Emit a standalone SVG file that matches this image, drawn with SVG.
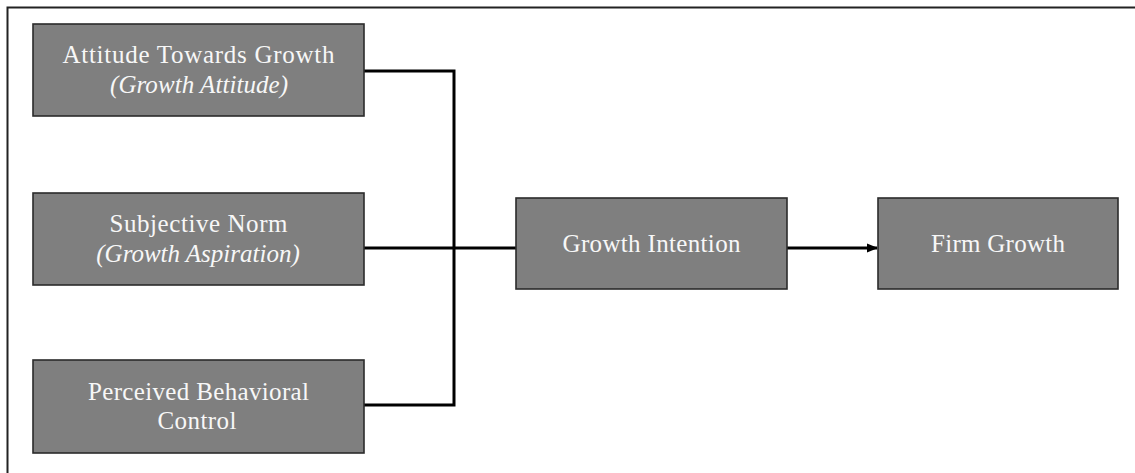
<svg xmlns="http://www.w3.org/2000/svg" width="1135" height="473" viewBox="0 0 1135 473">
<style>
.box{fill:#7f7f7f;stroke:#2b2b2b;stroke-width:1.6}
.t{font-family:"Liberation Serif","Times New Roman",serif;font-size:25px;fill:#f7f7f7;text-anchor:middle}
.i{font-style:italic}
.c{fill:none;stroke:#000;stroke-width:3}
</style>
<defs>
<marker id="ah" markerWidth="11" markerHeight="10" refX="10" refY="5" orient="auto" markerUnits="userSpaceOnUse">
<path d="M0,0.5 L11,5 L0,9.5 Z" fill="#000"/>
</marker>
</defs>
<path d="M7.5,473 V7.5 H1135" fill="none" stroke="#222" stroke-width="2"/>
<g id="connectors">
<polyline class="c" points="364,71 454,71 454,405 364,405"/>
<line class="c" x1="364" y1="248" x2="516" y2="248"/>
<line class="c" x1="787" y1="248" x2="877" y2="248" marker-end="url(#ah)"/>
</g>
<g id="n1">
<rect class="box" x="33" y="24" width="331" height="92"/>
<text class="t" x="198.5" y="63" textLength="272" lengthAdjust="spacing">Attitude Towards Growth</text>
<text class="t i" x="199" y="93" textLength="178" lengthAdjust="spacing">(Growth Attitude)</text>
</g>
<g id="n2">
<rect class="box" x="33" y="193" width="331" height="92"/>
<text class="t" x="198.5" y="232" textLength="178" lengthAdjust="spacing">Subjective Norm</text>
<text class="t i" x="198" y="262">(Growth Aspiration)</text>
</g>
<g id="n3">
<rect class="box" x="33" y="360" width="331" height="93"/>
<text class="t" x="198.5" y="399.5" textLength="221" lengthAdjust="spacing">Perceived Behavioral</text>
<text class="t" x="197" y="429" textLength="79" lengthAdjust="spacing">Control</text>
</g>
<g id="n4">
<rect class="box" x="516" y="198" width="271" height="91"/>
<text class="t" x="651.5" y="252" textLength="178" lengthAdjust="spacing">Growth Intention</text>
</g>
<g id="n5">
<rect class="box" x="878" y="198" width="240" height="91"/>
<text class="t" x="998" y="252" textLength="134" lengthAdjust="spacing">Firm Growth</text>
</g>
</svg>
